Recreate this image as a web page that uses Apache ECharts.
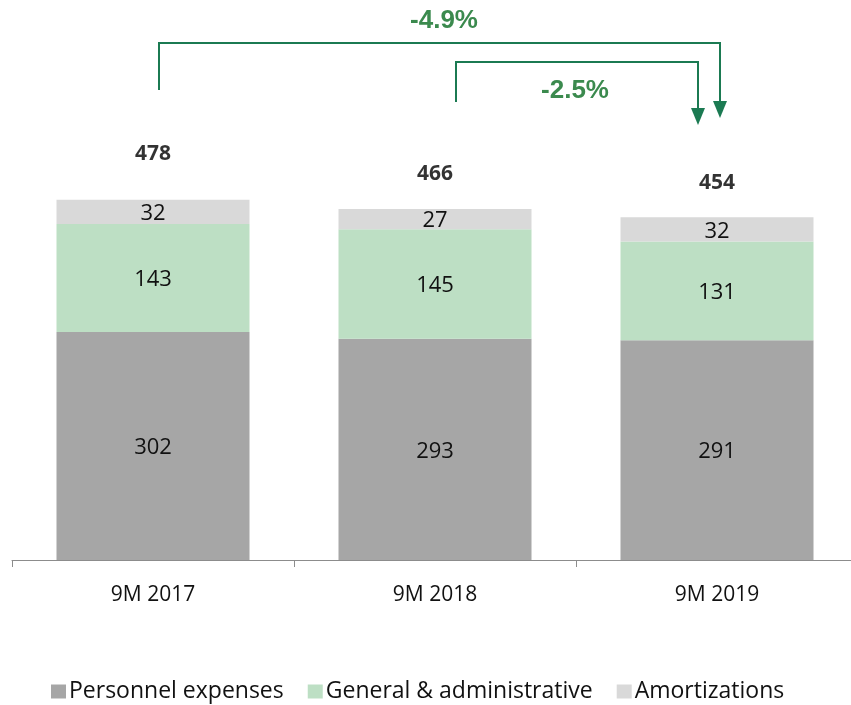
<!DOCTYPE html>
<html><head><meta charset="utf-8">
<script src="https://cdn.jsdelivr.net/npm/echarts@6/dist/echarts.min.js"></script>
<style>html,body{margin:0;padding:0;background:#fff;overflow:hidden}#c{width:862px;height:705px}</style>
</head><body><div id="c"></div>
<script>
const categories = ['9M 2017', '9M 2018', '9M 2019'];
const personnel = [302, 293, 291];
const general = [143, 145, 131];
const amortizations = [32, 27, 32];
const totals = [478, 466, 454];
const changeLabels = ['-4.9%', '-2.5%'];

const FONT = '"Open Sans", sans-serif';
const chart = echarts.init(document.getElementById('c'));
const segLabel = {show: true, position: 'inside', color: '#111', fontSize: 22, fontFamily: FONT, offset: [0, 2]};
chart.setOption({
  animation: false,
  grid: {left: 12, width: 846, top: 107, bottom: 145},
  legend: {
    bottom: -3, left: 46, itemWidth: 15, itemHeight: 14, itemGap: 24,
    icon: 'rect',
    textStyle: {fontSize: 23, color: '#111', fontFamily: FONT, padding: [0, 0, 0, -2]},
    data: ['Personnel expenses', 'General & administrative', 'Amortizations']
  },
  xAxis: {
    type: 'category', data: categories,
    axisLine: {lineStyle: {color: '#8c8c8c', width: 1}},
    axisTick: {show: true, length: 7, lineStyle: {color: '#8c8c8c'}},
    axisLabel: {fontSize: 21, color: '#111', fontFamily: FONT, margin: 25}
  },
  yAxis: {type: 'value', min: 0, max: 600, show: false, splitLine: {show: false}},
  series: [
    {name: 'Personnel expenses', type: 'bar', stack: 't', barWidth: 193, data: personnel,
     itemStyle: {color: '#a6a6a6'}, label: segLabel},
    {name: 'General & administrative', type: 'bar', stack: 't', data: general,
     itemStyle: {color: '#bddfc4'}, label: segLabel},
    {name: 'Amortizations', type: 'bar', stack: 't', data: amortizations,
     itemStyle: {color: '#d9d9d9'}, label: segLabel},
    {name: 'Total', type: 'scatter', symbolSize: 0, silent: true,
     data: totals.map((v, i) => ({value: v, label: {distance: i === 0 ? 35 : 24}})),
     label: {show: true, position: 'top', fontSize: 21, fontWeight: 'bold', color: '#000', fontFamily: FONT}}
  ]
});

// bracket annotations anchored to category positions
const px = i => chart.convertToPixel({xAxisIndex: 0}, categories[i]);
const lineColor = '#1b7a52', textColor = '#3b8a4e';
function bracket(x1, x2, yBottomLeft, yTop, yTip) {
  return [
    {type: 'polyline', shape: {points: [[x1, yBottomLeft], [x1, yTop], [x2, yTop], [x2, yTip - 14]]},
     style: {stroke: lineColor, lineWidth: 2, fill: null}},
    {type: 'polygon', shape: {points: [[x2 - 7, yTip - 17], [x2 + 7, yTip - 17], [x2, yTip]]},
     style: {fill: lineColor}}
  ];
}
const g = [];
g.push(...bracket(px(0) + 6, px(2) + 3, 90, 43, 118));
g.push(...bracket(px(1) + 21, px(2) - 19, 102, 62, 125));
const pctFont = 'bold 26px "Liberation Sans", Arial, sans-serif';
g.push({type: 'text', x: (px(0) + px(2)) / 2 + 9, y: 21,
  style: {text: changeLabels[0], fill: textColor, font: pctFont, align: 'center', verticalAlign: 'middle'}});
g.push({type: 'text', x: (px(1) + px(2)) / 2 - 1, y: 91,
  style: {text: changeLabels[1], fill: textColor, font: pctFont, align: 'center', verticalAlign: 'middle'}});
chart.setOption({graphic: g});
</script></body></html>
